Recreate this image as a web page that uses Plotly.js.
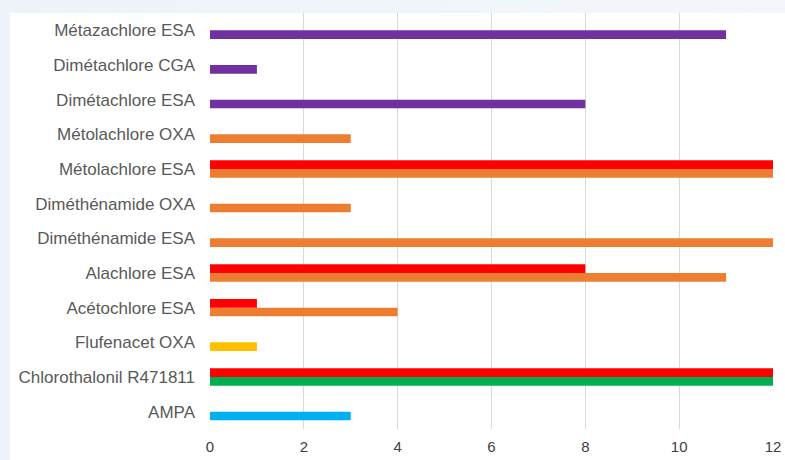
<!DOCTYPE html>
<html>
<head>
<meta charset="utf-8">
<script src="https://cdn.plot.ly/plotly-3.0.1.min.js"></script>
<style>
  html, body { margin: 0; padding: 0; }
  body { width: 785px; height: 460px; background: linear-gradient(90deg, #edf3f9 0%, #f3f7fb 100%); position: relative; overflow: hidden; }
  #chart { position: absolute; left: 10px; top: 13px; width: 775px; height: 447px; background: #ffffff; }
</style>
</head>
<body>
<div id="chart"></div>
<script>
const categories = [
  "AMPA",
  "Chlorothalonil R471811",
  "Flufenacet OXA",
  "Acétochlore ESA",
  "Alachlore ESA",
  "Diméthénamide ESA",
  "Diméthénamide OXA",
  "Métolachlore ESA",
  "Métolachlore OXA",
  "Dimétachlore ESA",
  "Dimétachlore CGA",
  "Métazachlore ESA"
];
const seriesLower = [3, 12, 1, 4, 11, 12, 3, 12, 3, 8, 1, 11];
const seriesLowerColors = ["#00b0f0", "#00b050", "#ffc000", "#ed7d31", "#ed7d31", "#ed7d31",
                           "#ed7d31", "#ed7d31", "#ed7d31", "#7030a0", "#7030a0", "#7030a0"];
const seriesUpper = [null, 12, null, 1, 8, null, null, 12, null, null, null, null];
const upperColor = "#ff0000";
const xTicks = [0, 2, 4, 6, 8, 10, 12];

const traces = [
  {
    type: "bar", orientation: "h", y: categories, x: seriesLower,
    marker: { color: seriesLowerColors, line: { width: 0 } },
    hoverinfo: "x+y", showlegend: false
  },
  {
    type: "bar", orientation: "h", y: categories, x: seriesUpper,
    marker: { color: upperColor, line: { width: 0 } },
    hoverinfo: "x+y", showlegend: false
  }
];

const layout = {
  width: 775, height: 447,
  margin: { l: 200, r: 12, t: 0, b: 31 },
  paper_bgcolor: "#ffffff",
  plot_bgcolor: "#ffffff",
  barmode: "group",
  bargap: 0.5,
  bargroupgap: 0,
  font: { family: "Liberation Sans, Arial, sans-serif" },
  xaxis: {
    range: [0, 12], tickvals: xTicks, ticktext: xTicks.map(String),
    showgrid: true, gridcolor: "#d9d9d9", gridwidth: 1,
    zeroline: false, showline: false, ticks: "",
    ticklabelstandoff: 7,
    tickfont: { size: 15, color: "#404040" },
    fixedrange: true
  },
  yaxis: {
    type: "category", categoryorder: "array", categoryarray: categories,
    range: [-0.5, 11.5],
    showgrid: false, zeroline: false, showline: false, ticks: "",
    ticklabelstandoff: 14,
    tickfont: { size: 17, color: "#595959" },
    fixedrange: true
  }
};

Plotly.newPlot("chart", traces, layout, { displayModeBar: false, staticPlot: true });
</script>
</body>
</html>
